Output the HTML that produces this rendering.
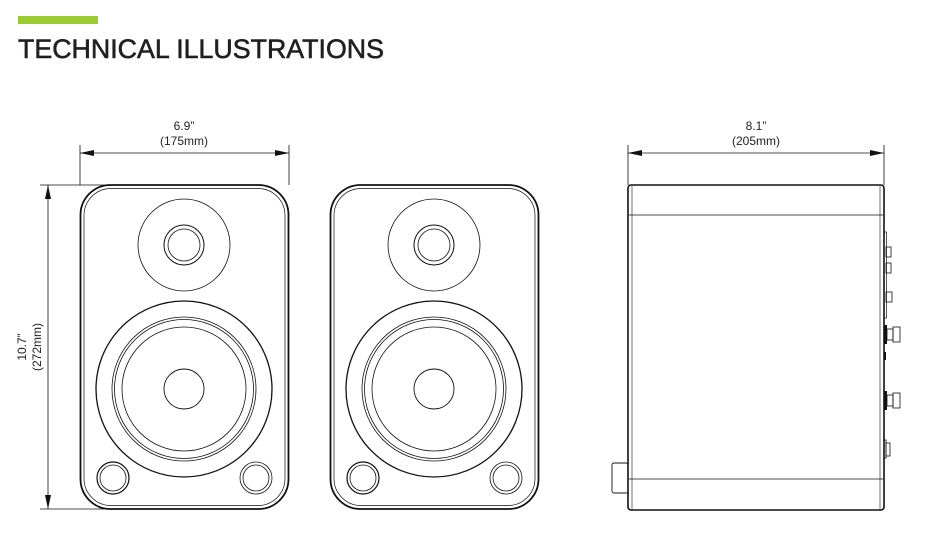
<!DOCTYPE html>
<html><head><meta charset="utf-8"><style>html,body{margin:0;padding:0;background:#fff;width:934px;height:550px;overflow:hidden}</style></head>
<body>
<svg width="934" height="550" viewBox="0 0 934 550" xmlns="http://www.w3.org/2000/svg">
<rect x="18" y="16" width="80" height="8" fill="#9bca32"/>
<text x="18" y="58" font-family="Liberation Sans, sans-serif" font-size="27" fill="#231f20" stroke="#231f20" stroke-width="0.6" textLength="366" lengthAdjust="spacingAndGlyphs">TECHNICAL ILLUSTRATIONS</text>
<g font-family="Liberation Sans, sans-serif" font-size="12" fill="#222" text-anchor="middle">
<text x="184" y="130">6.9”</text><text x="184" y="145">(175mm)</text>
<text x="756" y="130">8.1”</text><text x="756" y="145">(205mm)</text>
<text transform="translate(26,347) rotate(-90)">10.7”</text>
<text transform="translate(41,347) rotate(-90)">(272mm)</text>
</g>
<g stroke="#111" stroke-width="0.8" fill="none">
<line x1="80" y1="145" x2="80" y2="185"/><line x1="289" y1="145" x2="289" y2="185"/>
<line x1="80" y1="153" x2="289" y2="153"/>
<line x1="628" y1="145" x2="628" y2="185"/><line x1="884" y1="145" x2="884" y2="185"/>
<line x1="628" y1="153" x2="884" y2="153"/>
<line x1="40" y1="185" x2="110" y2="185"/><line x1="40" y1="509" x2="110" y2="509"/>
<line x1="48" y1="185" x2="48" y2="509"/>
</g>
<g fill="#111">
<path d="M80 153 l14 -3 v6z"/><path d="M289 153 l-14 -3 v6z"/>
<path d="M628 153 l14 -3 v6z"/><path d="M884 153 l-14 -3 v6z"/>
<path d="M48 185 l-3 14 h6z"/><path d="M48 509 l-3 -14 h6z"/>
</g>
<defs>
<g id="sp" fill="none" stroke="#111">
<rect x="0.5" y="0" width="208" height="324" rx="30" stroke-width="1.8"/>
<rect x="4" y="3.5" width="201" height="317" rx="27" stroke-width="0.7"/>
<circle cx="104" cy="60" r="46" stroke-width="0.8"/>
<circle cx="104" cy="60" r="20" stroke-width="1"/>
<circle cx="104" cy="60" r="16" stroke-width="0.8"/>
<circle cx="104" cy="204" r="88" stroke-width="1.3"/>
<circle cx="104" cy="204" r="72" stroke-width="0.8"/>
<circle cx="104" cy="204" r="69.5" stroke-width="0.8"/>
<circle cx="104" cy="204" r="62" stroke-width="0.8"/>
<circle cx="104" cy="204" r="20" stroke-width="0.9"/>
<circle cx="33" cy="293" r="16" stroke-width="1.2"/>
<circle cx="33" cy="293" r="13" stroke-width="0.8"/>
<circle cx="176" cy="293" r="16" stroke-width="0.8"/>
<circle cx="176" cy="293" r="13" stroke-width="0.8"/>
</g>
</defs>
<use href="#sp" x="80" y="185"/>
<use href="#sp" x="330" y="185"/>
<g fill="none" stroke="#111">
<rect x="628" y="185" width="256" height="325" rx="3" stroke-width="1.6"/>
<line x1="632" y1="186" x2="632" y2="509" stroke-width="0.6"/>
<line x1="880" y1="186" x2="880" y2="509" stroke-width="0.6"/>
<line x1="629" y1="215" x2="883" y2="215" stroke-width="0.8"/>
<line x1="629" y1="479" x2="883" y2="479" stroke-width="0.8"/>
<rect x="612" y="463" width="16" height="30" rx="2" stroke-width="0.9"/>
<rect x="884" y="232" width="2.5" height="86" stroke-width="0.7"/>
<rect x="886" y="247" width="5" height="10" stroke-width="0.8"/>
<rect x="886" y="263" width="5" height="10" stroke-width="0.8"/>
<rect x="886" y="292" width="6" height="10" stroke-width="0.8"/>
<rect x="887" y="329" width="6" height="11" stroke-width="0.8"/>
<rect x="893" y="327" width="7" height="15" stroke-width="0.8"/>
<rect x="887" y="395" width="6" height="11" stroke-width="0.8"/>
<rect x="893" y="393" width="7" height="15" stroke-width="0.8"/>
<rect x="884" y="440" width="2" height="18" stroke-width="0.8"/>
<rect x="886" y="443" width="4" height="13" stroke-width="0.8"/>
</g>
<g fill="#111">
<rect x="884" y="325" width="3" height="19"/>
<rect x="884" y="391" width="3" height="19"/>
<rect x="884" y="352" width="2" height="8"/>
</g>
</svg>
</body></html>
